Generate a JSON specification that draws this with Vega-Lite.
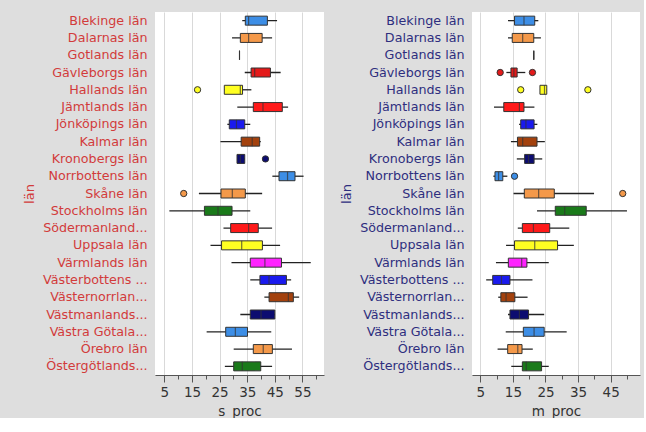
{
  "$schema": "https://vega.github.io/schema/vega-lite/v6.json",
  "background": "#dedede",
  "padding": {"left": 23, "top": 12, "right": 4, "bottom": 0},
  "spacing": 16,
  "config": {
    "font": "DejaVu Sans",
    "view": {"fill": "white", "stroke": null},
    "axisX": {
      "labelFontSize": 13.5,
      "labelColor": "#333333",
      "labelPadding": 3,
      "labelOverlap": false,
      "labelFlush": false,
      "titleFontSize": 13.5,
      "titleFontWeight": "normal",
      "titleColor": "#333333",
      "titlePadding": 6,
      "domainColor": "#555555",
      "tickColor": "#555555",
      "gridColor": "#d9d9d9"
    },
    "axisY": {
      "ticks": false,
      "domain": false,
      "grid": false,
      "labelFontSize": 12.7,
      "labelPadding": 8,
      "labelLimit": 200,
      "minExtent": 115,
      "maxExtent": 115,
      "titlePadding": 4,
      "titleFontSize": 13,
      "titleFontWeight": "normal"
    }
  },
  "datasets": {
    "s_box": [
      {"lan": "Blekinge län", "lo": 33.2, "q1": 34.3, "med": 35.5, "q3": 42.3, "hi": 45.8},
      {"lan": "Dalarnas län", "lo": 29.5, "q1": 32.5, "med": 35.5, "q3": 40.4, "hi": 44.0},
      {"lan": "Gotlands län", "lo": 32.2, "q1": 32.2, "med": 32.2, "q3": 32.2, "hi": 32.2},
      {"lan": "Gävleborgs län", "lo": 34.1, "q1": 36.4, "med": 37.7, "q3": 43.4, "hi": 47.1},
      {"lan": "Hallands län", "lo": 26.7, "q1": 26.7, "med": 32.5, "q3": 33.3, "hi": 36.5},
      {"lan": "Jämtlands län", "lo": 31.4, "q1": 37.2, "med": 40.7, "q3": 47.7, "hi": 49.8},
      {"lan": "Jönköpings län", "lo": 27.8, "q1": 28.5, "med": 31.1, "q3": 34.1, "hi": 36.1},
      {"lan": "Kalmar län", "lo": 25.3, "q1": 32.8, "med": 36.8, "q3": 39.5, "hi": 39.9},
      {"lan": "Kronobergs län", "lo": 31.3, "q1": 31.3, "med": 32.5, "q3": 34.1, "hi": 34.1},
      {"lan": "Norrbottens län", "lo": 44.1, "q1": 46.5, "med": 49.6, "q3": 52.3, "hi": 55.4},
      {"lan": "Skåne län", "lo": 17.5, "q1": 25.5, "med": 29.6, "q3": 34.3, "hi": 40.4},
      {"lan": "Stockholms län", "lo": 6.8, "q1": 19.5, "med": 24.4, "q3": 29.5, "hi": 36.1},
      {"lan": "Södermanland...", "lo": 26.4, "q1": 29.0, "med": 35.5, "q3": 39.0, "hi": 44.0},
      {"lan": "Uppsala län", "lo": 21.7, "q1": 25.7, "med": 33.0, "q3": 40.5, "hi": 46.9},
      {"lan": "Värmlands län", "lo": 29.3, "q1": 36.1, "med": 41.4, "q3": 47.4, "hi": 58.0},
      {"lan": "Västerbottens ...", "lo": 36.1, "q1": 39.6, "med": 42.9, "q3": 49.2, "hi": 50.9},
      {"lan": "Västernorrlan...", "lo": 41.2, "q1": 42.9, "med": 49.9, "q3": 51.7, "hi": 53.8},
      {"lan": "Västmanlands...", "lo": 32.5, "q1": 36.1, "med": 40.0, "q3": 45.0, "hi": 45.0},
      {"lan": "Västra Götala...", "lo": 20.3, "q1": 27.2, "med": 30.7, "q3": 35.1, "hi": 43.7},
      {"lan": "Örebro län", "lo": 30.1, "q1": 37.2, "med": 40.8, "q3": 44.1, "hi": 51.2},
      {"lan": "Östergötlands...", "lo": 26.9, "q1": 30.1, "med": 33.2, "q3": 39.9, "hi": 44.0}
    ],
    "s_out": [
      {"lan": "Hallands län", "value": 17.0},
      {"lan": "Kronobergs län", "value": 41.6},
      {"lan": "Skåne län", "value": 12.0}
    ],
    "m_box": [
      {"lan": "Blekinge län", "lo": 13.5, "q1": 15.5, "med": 18.4, "q3": 21.7, "hi": 22.8},
      {"lan": "Dalarnas län", "lo": 13.5, "q1": 14.8, "med": 18.0, "q3": 21.4, "hi": 23.6},
      {"lan": "Gotlands län", "lo": 21.4, "q1": 21.4, "med": 21.4, "q3": 21.4, "hi": 21.4},
      {"lan": "Gävleborgs län", "lo": 13.0, "q1": 14.4, "med": 15.3, "q3": 16.3, "hi": 18.8},
      {"lan": "Hallands län", "lo": 23.3, "q1": 23.3, "med": 24.7, "q3": 25.4, "hi": 25.4},
      {"lan": "Jämtlands län", "lo": 9.2, "q1": 12.2, "med": 17.0, "q3": 18.4, "hi": 21.6},
      {"lan": "Jönköpings län", "lo": 16.9, "q1": 17.4, "med": 19.0, "q3": 21.5, "hi": 22.5},
      {"lan": "Kalmar län", "lo": 14.4, "q1": 16.4, "med": 18.0, "q3": 22.4, "hi": 24.8},
      {"lan": "Kronobergs län", "lo": 16.2, "q1": 18.6, "med": 19.8, "q3": 21.5, "hi": 24.0},
      {"lan": "Norrbottens län", "lo": 9.0, "q1": 9.5, "med": 10.6, "q3": 11.9, "hi": 13.3},
      {"lan": "Skåne län", "lo": 15.2, "q1": 18.5, "med": 22.9, "q3": 27.7, "hi": 39.9},
      {"lan": "Stockholms län", "lo": 22.4, "q1": 28.0, "med": 30.9, "q3": 37.5, "hi": 50.0},
      {"lan": "Södermanland...", "lo": 16.5, "q1": 17.9, "med": 21.3, "q3": 26.3, "hi": 32.3},
      {"lan": "Uppsala län", "lo": 12.9, "q1": 15.5, "med": 21.7, "q3": 28.7, "hi": 33.7},
      {"lan": "Värmlands län", "lo": 9.8, "q1": 13.6, "med": 17.7, "q3": 19.3, "hi": 26.0},
      {"lan": "Västerbottens ...", "lo": 6.8, "q1": 8.8, "med": 11.5, "q3": 14.1, "hi": 21.0},
      {"lan": "Västernorrlan...", "lo": 10.5, "q1": 11.3, "med": 12.9, "q3": 15.6, "hi": 19.5},
      {"lan": "Västmanlands...", "lo": 13.5, "q1": 14.1, "med": 17.0, "q3": 19.8, "hi": 24.6},
      {"lan": "Västra Götala...", "lo": 12.8, "q1": 18.2, "med": 21.5, "q3": 24.6, "hi": 31.5},
      {"lan": "Örebro län", "lo": 10.3, "q1": 13.4, "med": 16.5, "q3": 17.8, "hi": 21.1},
      {"lan": "Östergötlands...", "lo": 14.5, "q1": 17.9, "med": 19.1, "q3": 23.8, "hi": 26.0}
    ],
    "m_out": [
      {"lan": "Gävleborgs län", "value": 11.1},
      {"lan": "Gävleborgs län", "value": 21.0},
      {"lan": "Hallands län", "value": 17.4},
      {"lan": "Hallands län", "value": 38.0},
      {"lan": "Norrbottens län", "value": 15.5},
      {"lan": "Skåne län", "value": 48.7}
    ]
  },
  "hconcat": [
    {
      "width": 169,
      "height": 363,
      "resolve": {"axis": {"x": "independent"}},
      "encoding": {
        "y": {
          "field": "lan", "type": "nominal", "title": "län",
          "scale": {"domain": ["Blekinge län", "Dalarnas län", "Gotlands län", "Gävleborgs län", "Hallands län", "Jämtlands län", "Jönköpings län", "Kalmar län", "Kronobergs län", "Norrbottens län", "Skåne län", "Stockholms län", "Södermanland...", "Uppsala län", "Värmlands län", "Västerbottens ...", "Västernorrlan...", "Västmanlands...", "Västra Götala...", "Örebro län", "Östergötlands..."], "paddingInner": 0, "paddingOuter": 0},
          "axis": {"labelColor": "#d23b3b", "titleColor": "#d23b3b"}
        },
        "color": {
          "field": "lan", "type": "nominal", "legend": null,
          "scale": {
            "domain": ["Blekinge län", "Dalarnas län", "Gotlands län", "Gävleborgs län", "Hallands län", "Jämtlands län", "Jönköpings län", "Kalmar län", "Kronobergs län", "Norrbottens län", "Skåne län", "Stockholms län", "Södermanland...", "Uppsala län", "Värmlands län", "Västerbottens ...", "Västernorrlan...", "Västmanlands...", "Västra Götala...", "Örebro län", "Östergötlands..."],
            "range": ["#3d8ee6", "#f4994a", "#9a9a9a", "#e41a1a", "#ffff22", "#ff1a1a", "#1a1aee", "#a3410d", "#0c0c70", "#3d8ee6", "#f4994a", "#1a7a1a", "#ff1a1a", "#ffff22", "#ff22ff", "#1a1aee", "#a3410d", "#0c0c70", "#3d8ee6", "#f4994a", "#1a7a1a"]
          }
        }
      },
      "layer": [
        {
          "data": {"name": "s_box"},
          "mark": {"type": "rule", "color": "#222222", "strokeWidth": 1.3},
          "encoding": {
            "x": {"field": "lo", "type": "quantitative", "title": "s_proc",
              "scale": {"domain": [1.6, 62.8], "zero": false, "nice": false},
              "axis": {"orient": "bottom", "values": [5, 15, 25, 35, 45, 55], "grid": true, "tickSize": 7, "labelOverlap": false}},
            "x2": {"field": "hi"},
            "color": {"value": "#222222"}
          }
        },
        {
          "data": {"name": "s_box"},
          "mark": {"type": "bar", "size": 9, "stroke": "#333333", "strokeWidth": 1},
          "encoding": {
            "x": {"field": "q1", "type": "quantitative", "axis": null},
            "x2": {"field": "q3"}
          }
        },
        {
          "data": {"name": "s_box"},
          "mark": {"type": "tick", "size": 9, "thickness": 1.2, "color": "#333333"},
          "encoding": {
            "x": {"field": "med", "type": "quantitative", "axis": null},
            "color": {"value": "#333333"}
          }
        },
        {
          "data": {"name": "s_out"},
          "mark": {"type": "circle", "size": 40, "stroke": "#333333", "strokeWidth": 1, "opacity": 1},
          "encoding": {
            "x": {"field": "value", "type": "quantitative", "axis": null}
          }
        },
        {
          "mark": {"type": "rule", "color": "#c0403a", "strokeWidth": 2, "opacity": 0.8},
          "encoding": {
            "x": {"datum": 31.0, "type": "quantitative",
              "axis": {"orient": "bottom", "values": [10, 20, 30, 40, 50, 60], "labels": false, "grid": false, "domain": false, "tickSize": 4, "title": null}},
            "y": null, "color": null
          }
        }
      ]
    },
    {
      "width": 168,
      "height": 363,
      "resolve": {"axis": {"x": "independent"}},
      "encoding": {
        "y": {
          "field": "lan", "type": "nominal", "title": "län",
          "scale": {"domain": ["Blekinge län", "Dalarnas län", "Gotlands län", "Gävleborgs län", "Hallands län", "Jämtlands län", "Jönköpings län", "Kalmar län", "Kronobergs län", "Norrbottens län", "Skåne län", "Stockholms län", "Södermanland...", "Uppsala län", "Värmlands län", "Västerbottens ...", "Västernorrlan...", "Västmanlands...", "Västra Götala...", "Örebro län", "Östergötlands..."], "paddingInner": 0, "paddingOuter": 0},
          "axis": {"labelColor": "#2e2e7e", "titleColor": "#2e2e7e"}
        },
        "color": {"field": "lan", "type": "nominal", "legend": null}
      },
      "layer": [
        {
          "data": {"name": "m_box"},
          "mark": {"type": "rule", "color": "#222222", "strokeWidth": 1.3},
          "encoding": {
            "x": {"field": "lo", "type": "quantitative", "title": "m_proc",
              "scale": {"domain": [2.45, 54], "zero": false, "nice": false},
              "axis": {"orient": "bottom", "values": [5, 15, 25, 35, 45], "grid": true, "tickSize": 7, "labelOverlap": false}},
            "x2": {"field": "hi"},
            "color": {"value": "#222222"}
          }
        },
        {
          "data": {"name": "m_box"},
          "mark": {"type": "bar", "size": 9, "stroke": "#333333", "strokeWidth": 1},
          "encoding": {
            "x": {"field": "q1", "type": "quantitative", "axis": null},
            "x2": {"field": "q3"}
          }
        },
        {
          "data": {"name": "m_box"},
          "mark": {"type": "tick", "size": 9, "thickness": 1.2, "color": "#333333"},
          "encoding": {
            "x": {"field": "med", "type": "quantitative", "axis": null},
            "color": {"value": "#333333"}
          }
        },
        {
          "data": {"name": "m_out"},
          "mark": {"type": "circle", "size": 40, "stroke": "#333333", "strokeWidth": 1, "opacity": 1},
          "encoding": {
            "x": {"field": "value", "type": "quantitative", "axis": null}
          }
        },
        {
          "mark": {"type": "rule", "color": "#1a1a6a", "strokeWidth": 1.5},
          "encoding": {
            "x": {"datum": 23.2, "type": "quantitative",
              "axis": {"orient": "bottom", "values": [10, 20, 30, 40, 50], "labels": false, "grid": false, "domain": false, "tickSize": 4, "title": null}},
            "y": null, "color": null
          }
        }
      ]
    }
  ]
}
